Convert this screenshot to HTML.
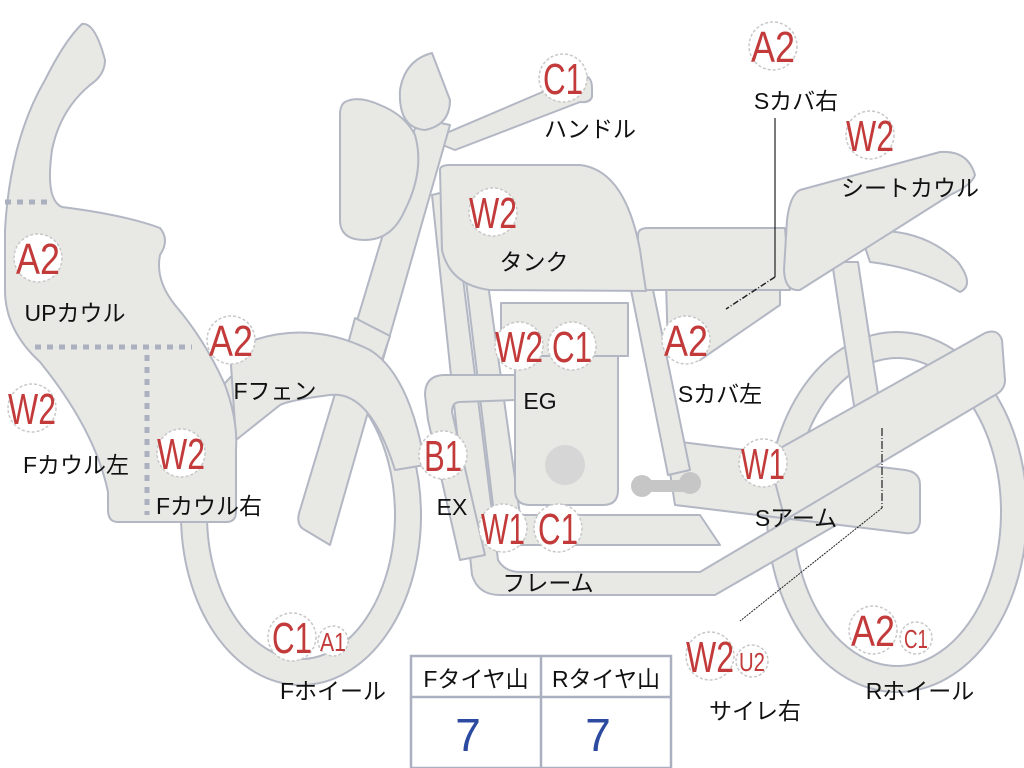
<!DOCTYPE html>
<html><head><meta charset="utf-8"><style>
html,body{margin:0;padding:0;background:#fff}
svg{display:block}
.s{fill:#e8e8e4;stroke:#b2b7c3;stroke-width:2;stroke-linejoin:round}
.b{fill:#fff;stroke:#c8c8c8;stroke-width:1.5;stroke-dasharray:3 2}
.r{fill:#c23a3a;font-family:"Liberation Sans","Noto Sans CJK JP",sans-serif;text-anchor:middle}
.l{fill:#111;font-family:"Liberation Sans","Noto Sans CJK JP",sans-serif;font-size:23px;text-anchor:middle}
</style></head><body>
<svg width="1024" height="768" viewBox="0 0 1024 768" xmlns="http://www.w3.org/2000/svg">
<ellipse cx="897" cy="512" rx="117" ry="167" fill="none" stroke="#b2b7c3" stroke-width="28"/>
<ellipse cx="897" cy="512" rx="117" ry="167" fill="none" stroke="#e8e8e4" stroke-width="24"/>
<ellipse cx="301" cy="515" rx="107" ry="157" fill="none" stroke="#b2b7c3" stroke-width="28"/>
<ellipse cx="301" cy="515" rx="107" ry="157" fill="none" stroke="#e8e8e4" stroke-width="24"/>
<path class="s" d="M832,262 L858,262 L885,440 L860,445 Z"/>
<path class="s" d="M432,195 L452,190 L498,560 Q505,572 520,572 L700,572 L830,495 L845,520 L715,595 L500,595 Q478,595 472,575 Z"/>
<path class="s" d="M455,190 L475,190 L520,515 L700,515 L720,545 L510,545 Q498,545 496,530 Z"/>
<path class="s" d="M515,355 L618,355 L618,490 Q618,505 603,505 L530,505 Q515,505 515,490 Z"/>
<rect class="s" x="501" y="303" width="127" height="53"/>
<circle cx="565" cy="465" r="20" fill="#d6d6d6"/>
<path class="s" d="M425,395 Q425,375 445,375 L515,375 L515,400 L460,402 Q452,402 452,412 L485,555 L460,560 L428,420 Z"/>
<path class="s" d="M665,440 L905,470 Q920,472 920,485 L920,522 Q918,535 905,533 L700,508 L675,505 Z"/>
<path d="M642,486 L690,486" stroke="#c6c6c6" stroke-width="12" stroke-linecap="round"/>
<circle cx="642" cy="486" r="11" fill="#c6c6c6"/><circle cx="690" cy="483" r="11" fill="#c6c6c6"/>
<path class="s" d="M768,455 L985,333 Q998,328 1002,340 L1005,380 Q1005,390 995,395 L785,520 Z"/>
<path class="s" d="M666,282 L780,282 L780,305 L700,360 L668,352 Z"/>
<path class="s" d="M630,285 L652,285 L690,470 L668,475 Z"/>
<path class="s" d="M638,235 Q638,228 648,228 L785,228 L790,290 L648,290 Q638,290 638,280 Z"/>
<path class="s" d="M440,170 Q440,165 450,165 L580,165 Q625,170 640,250 L646,291 L490,290 Q450,285 442,250 Z"/>
<path class="s" d="M860,232 Q920,225 958,262 Q975,285 960,292 Q920,268 870,262 Z"/>
<path class="s" d="M800,190 L940,152 Q968,150 975,175 Q972,185 950,195 L800,290 Q785,292 784,270 L787,220 Q790,195 800,190 Z"/>
<path class="s" d="M430,140 L580,76 Q592,74 592,88 L592,97 Q590,103 580,102 L455,150 Z"/>
<path class="s" d="M418,118 L450,125 L330,545 L305,530 Q295,525 300,510 Z"/>
<path class="s" d="M355,318 L390,336 L378,372 L345,355 Z"/>
<path class="s" d="M345,102 Q358,95 380,105 Q405,115 415,135 Q425,170 405,210 Q392,240 365,240 Q340,240 340,220 L340,115 Q340,105 345,102 Z"/>
<path class="s" d="M400,90 Q405,60 432,53 L450,100 Q450,125 425,130 Q398,128 400,90 Z"/>
<path class="s" d="M230,350 Q300,315 370,350 Q410,375 425,465 L395,470 Q370,390 330,395 Q290,400 280,405 L236,440 Z"/>
<path class="s" d="M82,24 Q95,22 105,60 Q105,75 90,85 Q60,110 52,150 Q45,200 62,207 Q125,215 160,228 Q170,240 160,255 Q155,280 175,305 Q205,340 225,385 Q238,420 236,450 L236,512 Q236,522 226,522 L118,522 Q108,522 108,510 L108,492 Q95,430 40,362 Q5,330 5,290 L5,230 Q10,140 45,80 Q65,40 82,24 Z"/>
<g stroke="#aab0be" stroke-width="5" stroke-dasharray="6 6">
<path d="M5,202 L50,202"/>
<path d="M35,347 L192,347"/>
<path d="M147,355 L147,515"/>
</g>
<path d="M775,118 L775,277" stroke="#222" stroke-width="1.2" fill="none"/>
<path d="M775,277 L726,309" stroke="#222" stroke-width="1.5" stroke-dasharray="6 2 1 2" fill="none"/>
<path d="M882,428 L882,508" stroke="#222" stroke-width="1.2" stroke-dasharray="8 2 1 2" fill="none"/>
<path d="M882,508 L740,621" stroke="#222" stroke-width="1" stroke-dasharray="2 1" fill="none"/>
<rect x="411" y="656" width="260" height="112" fill="#fff" stroke="#aab0c0" stroke-width="2.5"/>
<path d="M411,697 L671,697 M541,656 L541,768" stroke="#aab0c0" stroke-width="2.5"/>
<text class="l" x="476" y="687" font-size="25">Fタイヤ山</text>
<text class="l" x="606" y="687" font-size="25">Rタイヤ山</text>
<text x="468" y="751" font-size="46" fill="#2b4aa0" text-anchor="middle" font-family="Liberation Sans,sans-serif">7</text>
<text x="598" y="751" font-size="46" fill="#2b4aa0" text-anchor="middle" font-family="Liberation Sans,sans-serif">7</text>
<g>
<circle class="b" cx="563" cy="78" r="24"/><text class="r" x="563" y="94" font-size="44" textLength="40" lengthAdjust="spacingAndGlyphs">C1</text>
<circle class="b" cx="773" cy="46" r="24"/><text class="r" x="773" y="62" font-size="44" textLength="44" lengthAdjust="spacingAndGlyphs">A2</text>
<circle class="b" cx="870" cy="135" r="24"/><text class="r" x="870" y="151" font-size="44" textLength="48" lengthAdjust="spacingAndGlyphs">W2</text>
<circle class="b" cx="493" cy="212" r="24"/><text class="r" x="493" y="228" font-size="44" textLength="48" lengthAdjust="spacingAndGlyphs">W2</text>
<circle class="b" cx="38" cy="258" r="24"/><text class="r" x="38" y="274" font-size="44" textLength="44" lengthAdjust="spacingAndGlyphs">A2</text>
<circle class="b" cx="231" cy="340" r="24"/><text class="r" x="231" y="356" font-size="44" textLength="44" lengthAdjust="spacingAndGlyphs">A2</text>
<circle class="b" cx="519" cy="346" r="24"/><text class="r" x="519" y="362" font-size="44" textLength="48" lengthAdjust="spacingAndGlyphs">W2</text>
<circle class="b" cx="572" cy="346" r="24"/><text class="r" x="572" y="362" font-size="44" textLength="40" lengthAdjust="spacingAndGlyphs">C1</text>
<circle class="b" cx="686" cy="340" r="24"/><text class="r" x="686" y="356" font-size="44" textLength="44" lengthAdjust="spacingAndGlyphs">A2</text>
<circle class="b" cx="32" cy="408" r="24"/><text class="r" x="32" y="424" font-size="44" textLength="48" lengthAdjust="spacingAndGlyphs">W2</text>
<circle class="b" cx="181" cy="453" r="24"/><text class="r" x="181" y="469" font-size="44" textLength="48" lengthAdjust="spacingAndGlyphs">W2</text>
<circle class="b" cx="443" cy="455" r="24"/><text class="r" x="443" y="471" font-size="44" textLength="38" lengthAdjust="spacingAndGlyphs">B1</text>
<circle class="b" cx="763" cy="463" r="24"/><text class="r" x="763" y="479" font-size="44" textLength="44" lengthAdjust="spacingAndGlyphs">W1</text>
<circle class="b" cx="503" cy="528" r="24"/><text class="r" x="503" y="544" font-size="44" textLength="44" lengthAdjust="spacingAndGlyphs">W1</text>
<circle class="b" cx="558" cy="528" r="24"/><text class="r" x="558" y="544" font-size="44" textLength="40" lengthAdjust="spacingAndGlyphs">C1</text>
<circle class="b" cx="292" cy="637" r="24"/><text class="r" x="292" y="653" font-size="44" textLength="40" lengthAdjust="spacingAndGlyphs">C1</text>
<circle class="b" cx="333" cy="641" r="15"/><text class="r" x="333" y="651" font-size="26" textLength="26" lengthAdjust="spacingAndGlyphs">A1</text>
<circle class="b" cx="710" cy="656" r="24"/><text class="r" x="710" y="672" font-size="44" textLength="48" lengthAdjust="spacingAndGlyphs">W2</text>
<circle class="b" cx="752" cy="661" r="16"/><text class="r" x="752" y="671" font-size="26" textLength="26" lengthAdjust="spacingAndGlyphs">U2</text>
<circle class="b" cx="873" cy="630" r="24"/><text class="r" x="873" y="646" font-size="44" textLength="44" lengthAdjust="spacingAndGlyphs">A2</text>
<circle class="b" cx="916" cy="638" r="16"/><text class="r" x="916" y="648" font-size="26" textLength="24" lengthAdjust="spacingAndGlyphs">C1</text>
</g>
<text class="l" x="590" y="137">ハンドル</text>
<text class="l" x="796" y="109">Sカバ右</text>
<text class="l" x="910" y="196">シートカウル</text>
<text class="l" x="534" y="270">タンク</text>
<text class="l" x="75" y="321">UPカウル</text>
<text class="l" x="275" y="399">Fフェン</text>
<text class="l" x="540" y="409">EG</text>
<text class="l" x="720" y="402">Sカバ左</text>
<text class="l" x="76" y="473">Fカウル左</text>
<text class="l" x="209" y="514">Fカウル右</text>
<text class="l" x="452" y="515">EX</text>
<text class="l" x="796" y="526">Sアーム</text>
<text class="l" x="548" y="591">フレーム</text>
<text class="l" x="333" y="699">Fホイール</text>
<text class="l" x="755" y="719">サイレ右</text>
<text class="l" x="920" y="699">Rホイール</text>
</svg>
</body></html>
